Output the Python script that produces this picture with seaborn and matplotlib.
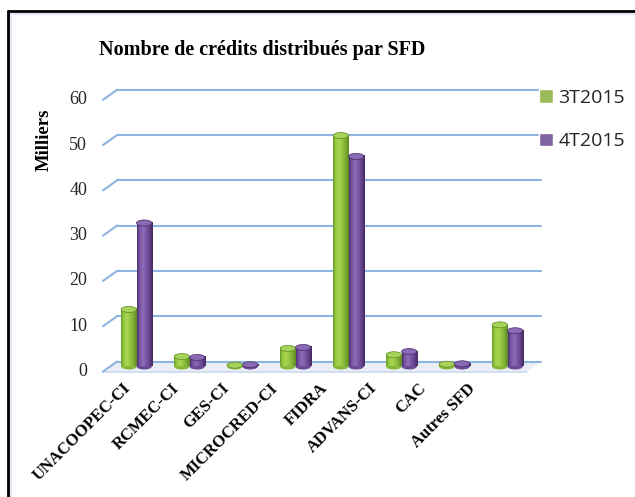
import numpy as np
import pandas as pd
import matplotlib
matplotlib.use("Agg")
import matplotlib.pyplot as plt
import seaborn as sns
from matplotlib import transforms as mtrans
from matplotlib.patches import Ellipse, Polygon, Patch
from matplotlib.lines import Line2D
from matplotlib.colors import to_rgb

# ---------------- data ----------------
categories = ["UNACOOPEC-CI", "RCMEC-CI", "GES-CI", "MICROCRED-CI",
              "FIDRA", "ADVANS-CI", "CAC", "Autres SFD"]
series = ["3T2015", "4T2015"]
values_3t2015 = [12.6, 2.2, 0.3, 4.0, 51.0, 2.6, 0.5, 9.2]
values_4t2015 = [31.7, 2.0, 0.4, 4.2, 46.4, 3.3, 0.6, 7.9]
yticks = [0, 10, 20, 30, 40, 50, 60]
title = "Nombre de crédits distribués par SFD"
ylabel = "Milliers"

df = pd.DataFrame({
    "SFD": categories * 2,
    "Période": [series[0]] * len(categories) + [series[1]] * len(categories),
    "Valeur": values_3t2015 + values_4t2015,
})

green = "#8DC03F"
purple = "#7552A0"
shades = {
    "g": ["#6A9A2A", "#92C63F", "#ABD650", "#86B83A", "#5E8A22"],
    "p": ["#4C316E", "#7552A0", "#8E6CB8", "#6C4A96", "#45295F"],
}
caps = {"g": "#A6D25A", "p": "#8A6AB4"}
edge = {"g": "#5E8A22", "p": "#45295F"}
grid_col = "#8EB4E3"

sns.set_theme(style="white")
plt.rcParams["font.family"] = ["Liberation Serif", "DejaVu Serif"]

W, H = 635, 497
fig = plt.figure(figsize=(W / 100, H / 100), dpi=100)
fig.patch.set_facecolor("white")

ax_left, ax_right, ax_base, ax_top = 110, 534, 366.5, 94.8
ax = fig.add_axes([ax_left / W, 1 - ax_base / H, (ax_right - ax_left) / W, (ax_base - ax_top) / H])

sns.barplot(data=df, x="SFD", y="Valeur", hue="Période", palette=[green, purple],
            width=0.58, gap=0, saturation=1, legend=False, ax=ax, zorder=2)

ax.set_xlim(-0.5, len(categories) - 0.5)
ax.set_ylim(yticks[0], yticks[-1])

# pixel -> data conversions for the pseudo-3D depth
px_per_unit = (ax_base - ax_top) / (yticks[-1] - yticks[0])
depth_dx_ax = 7 / (ax_right - ax_left)
depth_dy = 5 / px_per_unit
cap_h = 6 / px_per_unit

blend = mtrans.blended_transform_factory(ax.transAxes, ax.transData)

# floor
floor = Polygon([(-depth_dx_ax, -depth_dy), (1 - depth_dx_ax, -depth_dy),
                 (1 + depth_dx_ax, depth_dy), (depth_dx_ax, depth_dy)],
                closed=True, transform=blend, facecolor="#E9EEF5", edgecolor="none",
                zorder=0.5, clip_on=False)
ax.add_patch(floor)
ax.plot([-depth_dx_ax, 1 - depth_dx_ax], [-depth_dy, -depth_dy], transform=blend,
        color="#C9D8EC", lw=1.2, clip_on=False, zorder=0.6)

# gridlines on back wall + depth stubs
for t in yticks:
    ax.plot([depth_dx_ax, 1 + depth_dx_ax], [t + depth_dy, t + depth_dy], transform=blend,
            color=grid_col, lw=1.5, clip_on=False, zorder=1)
    ax.plot([-depth_dx_ax, depth_dx_ax], [t - depth_dy, t + depth_dy], transform=blend,
            color=grid_col, lw=1.5, clip_on=False, zorder=1)
    ax.text(0, t, str(t), transform=blend + mtrans.ScaledTranslation(-23 / 100, -5 / 100, fig.dpi_scale_trans),
            ha="right", va="center", fontsize=13, color="#262626")

# cylinder shading
g_rgb = np.array(to_rgb(green))
n = 64
pos = [0, 0.15, 0.38, 0.72, 1.0]
def grad_for(key):
    cols = np.array([to_rgb(c) for c in shades[key]])
    tt = np.linspace(0, 1, n)
    out = np.stack([np.interp(tt, pos, cols[:, k]) for k in range(3)], axis=-1)
    return out[None, :, :]

for p in list(ax.patches):
    if not hasattr(p, "get_width") or p is floor:
        continue
    fc = np.array(p.get_facecolor()[:3])
    key = "g" if np.allclose(fc, g_rgb, atol=0.02) else "p"
    x0, w, h = p.get_x(), p.get_width(), p.get_height()
    xc = x0 + w / 2
    ax.add_patch(Ellipse((xc, 0), w, cap_h, facecolor=shades[key][3], edgecolor="none",
                         zorder=2.5, clip_on=False))
    ax.imshow(grad_for(key), extent=[x0, x0 + w, 0, h], aspect="auto", zorder=3,
              interpolation="bilinear")
    ax.add_patch(Ellipse((xc, h), w, cap_h, facecolor=caps[key], edgecolor=edge[key],
                         lw=0.5, zorder=4, clip_on=False))
    p.set_visible(False)

ax.set_xlim(-0.5, len(categories) - 0.5)
ax.set_ylim(yticks[0], yticks[-1])
ax.set_axis_off()

# category labels (front edge, slight perspective)
lab_c0, lab_step, lab_y = 128, 49.3, 386
ax_lab = fig.add_axes([(lab_c0 - lab_step / 2) / W, 1 - (lab_y + 1) / H, lab_step * len(categories) / W, 2 / H])
ax_lab.set_xlim(-0.5, len(categories) - 0.5)
ax_lab.set_ylim(0, 1)
ax_lab.set_axis_off()
for i, c in enumerate(categories):
    ax_lab.text(i, 0.5, c, rotation=45, ha="right", va="center", rotation_mode="anchor",
                fontsize=12, fontweight="bold", color="black")

# titles
fig.text(262 / W, 1 - 50 / H, title, ha="center", va="center", fontsize=14.5,
         fontweight="bold", color="black")
fig.text(44.5 / W, 1 - 139.5 / H, ylabel, rotation=90, ha="center", va="center",
         fontsize=13.5, fontweight="bold", color="black")

# legend
handles = [Patch(facecolor="#9BBB59"), Patch(facecolor="#8064A2")]
fig.legend(handles, series, loc="upper left", bbox_to_anchor=(539 / W, 1 - 89 / H),
           frameon=False, handlelength=0.7, handleheight=0.7, handletextpad=0.3,
           labelspacing=1.3, borderpad=0, borderaxespad=0,
           prop={"family": "Open Sans", "size": 14})

# frame
fig.add_artist(Line2D([8 / W, 8 / W], [0, 1 - 11 / H], color="black", lw=2))
fig.add_artist(Line2D([8 / W, 1], [1 - 11 / H, 1 - 11 / H], color="black", lw=2))
fig.add_artist(Line2D([11 / W, 11 / W], [0, 1 - 14 / H], color="#DCE6F2", lw=1.2))
fig.add_artist(Line2D([11 / W, 1], [1 - 14 / H, 1 - 14 / H], color="#DCE6F2", lw=1.2))

fig.savefig("out.png", dpi=100, facecolor="white")
